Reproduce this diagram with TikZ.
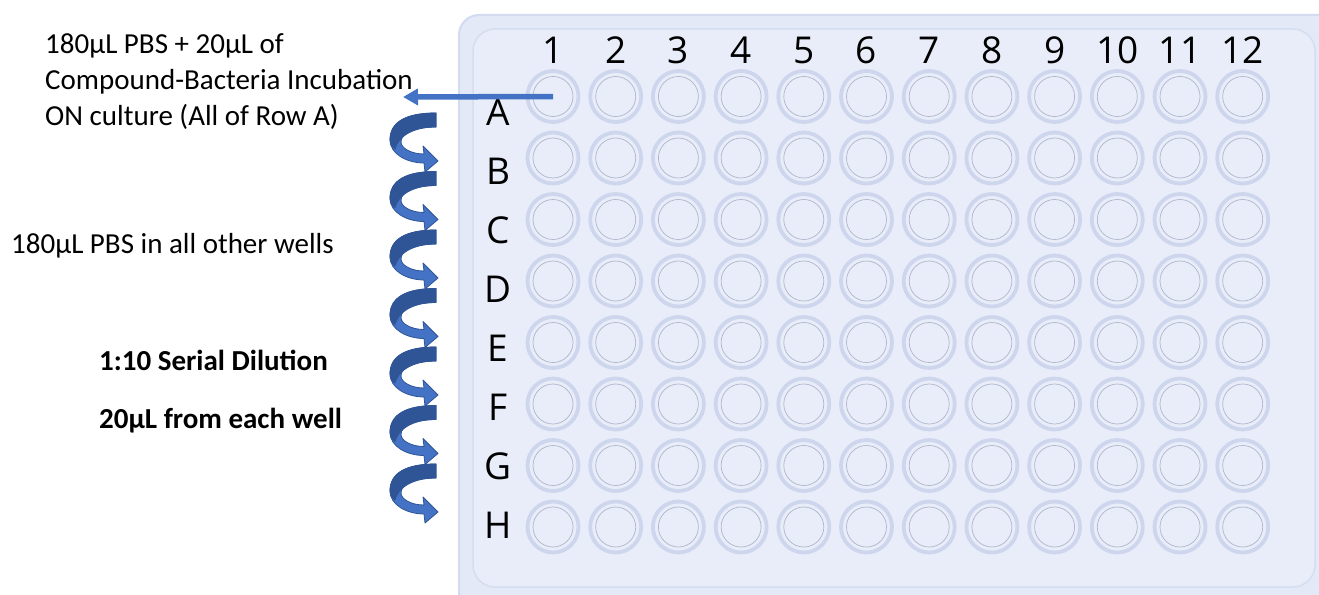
\documentclass[tikz,border=0pt]{standalone}
\usepackage{fontspec}
\setmainfont{Carlito}
\newfontfamily\platefont{Open Sans}
\usetikzlibrary{arrows.meta}

\definecolor{plateouter}{HTML}{E3E9F7}
\definecolor{plateedge}{HTML}{D2DBF0}
\definecolor{plateinner}{HTML}{E9EDF9}
\definecolor{plateedgein}{HTML}{D5DDF1}
\definecolor{ringcol}{HTML}{CDD6EC}
\definecolor{wellline}{HTML}{AEB6CB}
\definecolor{arrowblue}{HTML}{4472C4}
\definecolor{arrowdark}{HTML}{2F5597}

\begin{document}
\begin{tikzpicture}[x=1pt,y=-1pt,
  well/.style={circle, minimum size=51pt, inner sep=0pt, draw=ringcol, line width=3.8pt},
  wellinner/.style={draw=wellline, line width=0.7pt},
  platelabel/.style={font=\platefont\fontsize{37}{40}\selectfont, text=black, inner sep=0pt},
  note/.style={font=\fontsize{29}{34}\selectfont, anchor=base west, inner sep=0pt},
  boldnote/.style={note, font=\fontsize{29}{34}\selectfont\bfseries},
  transfer/.style={draw=arrowblue, line width=5.5pt, -{Triangle[length=15pt,width=16pt]}},
  curlfill/.style={fill=arrowblue, draw=arrowdark, line width=0.8pt, line join=round},
  curlback/.style={fill=arrowdark, draw=arrowdark, line width=0.8pt, line join=round}
]
\useasboundingbox (0,0) rectangle (1319,594);

% plate body
\begin{scope}
  \clip (0,0) rectangle (1319,594);
  \draw[fill=plateouter, draw=plateedge, line width=2pt, rounded corners=20pt]
    (459,15) rectangle (1345,620);
  \draw[fill=plateinner, draw=plateedgein, line width=1.5pt, rounded corners=22pt]
    (473,29) rectangle (1315,587);
\end{scope}

% 8 x 12 wells
\foreach \i in {1,...,8} {
  \foreach \j in {1,...,12} {
    \node[well] (w\i-\j) at ({553+(\j-1)*62.7},{96.5+(\i-1)*61.5}) {};
    \draw[wellinner] (w\i-\j.center) circle (20pt);
  }
}

% column numbers
\foreach \j in {1,...,12} {
  \node[platelabel] (col\j) at ({553+(\j-1)*62.7},50) {\j};
}

% row letters
\foreach \l [count=\i] in {A,B,C,D,E,F,G,H} {
  \node[platelabel] (row\l) at (498,{112+(\i-1)*59}) {\l};
}

% notes
\node[note] (n1) at (45,53) {180µL PBS + 20µL of};
\node[note] (n2) at (45,89) {Compound-Bacteria Incubation};
\node[note] (n3) at (45,125) {ON culture (All of Row A)};
\node[note] (n4) at (11,253) {180µL PBS in all other wells};
\node[boldnote] (n5) at (99,370) {1:10 Serial Dilution};
\node[boldnote] (n6) at (99,428) {20µL from each well};

% transfer from well A1 to the note
\coordinate (tip) at (403,97);
\draw[transfer] (w1-1.center) -- (tip);

% curled arrows of the serial dilution, one per row step
\foreach \k in {0,...,6} {
  \begin{scope}[shift={(436,{113+58.5*\k})}]
    \path[curlfill]
      (0,0) .. controls (-30,0) and (-46,9) .. (-46,27)
      .. controls (-46,41) and (-29,50) .. (-12,50)
      -- (-11,59) -- (2,48) -- (-13,33) -- (-12,41)
      .. controls (-25,41) and (-35,35) .. (-35,29)
      .. controls (-35,20) and (-22,14) .. (0,14) -- cycle;
    \path[curlback]
      (0,0) .. controls (-30,0) and (-46,9) .. (-46,27)
      .. controls (-46,31) and (-44,34) .. (-41,36)
      .. controls (-38,24) and (-24,14) .. (0,14) -- cycle;
  \end{scope}
}
\end{tikzpicture}
\end{document}
